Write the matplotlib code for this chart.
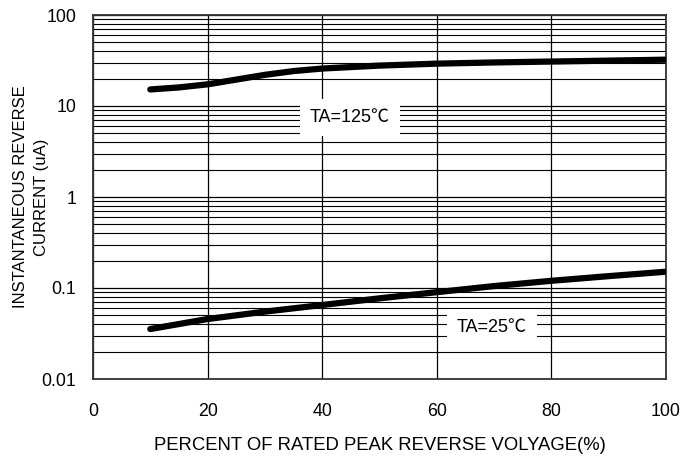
import matplotlib
matplotlib.use("Agg")
import matplotlib.pyplot as plt
import numpy as np

plt.rcParams['font.family'] = ['Liberation Sans', 'Noto Sans CJK SC', 'DejaVu Sans']

# Data (percent of rated peak reverse voltage, current in uA)
x_125 = [10, 15, 20, 25, 30, 35, 40, 50, 60, 70, 80, 90, 100]
y_125 = [15.2, 16.0, 17.3, 19.5, 22.0, 24.2, 25.8, 27.8, 29.2, 30.1, 30.8, 31.5, 32.3]
x_25 = [10, 20, 30, 40, 50, 60, 70, 80, 90, 100]
y_25 = [0.0354, 0.0456, 0.055, 0.065, 0.077, 0.090, 0.105, 0.120, 0.135, 0.151]

x_ticks = [0, 20, 40, 60, 80, 100]
y_ticks = [0.01, 0.1, 1, 10, 100]
y_ticklabels = ['0.01', '0.1', '1', '10', '100']

label_125 = 'TA=125\u2103'
label_25 = 'TA=25\u2103'
xlabel = 'PERCENT OF RATED PEAK REVERSE VOLYAGE(%)'
ylabel = 'INSTANTANEOUS REVERSE\nCURRENT (uA)'

fig = plt.figure(figsize=(6.99, 4.59), dpi=100)
ax = fig.add_axes([93/699, 80/459, 573/699, 364/459])
ax.set_yscale('log')
ax.set_xlim(0, 100)
ax.set_ylim(0.01, 100)

ax.set_xticks(x_ticks)
ax.set_xticklabels([str(v) for v in x_ticks])
ax.set_yticks(y_ticks)
ax.set_yticklabels(y_ticklabels)
ax.yaxis.set_minor_locator(matplotlib.ticker.LogLocator(base=10, subs=np.arange(2, 10)))
ax.yaxis.set_minor_formatter(matplotlib.ticker.NullFormatter())

ax.tick_params(axis='both', which='both', length=0, labelsize=12.8, colors='black')
ax.tick_params(axis='x', pad=17)
ax.tick_params(axis='y', pad=12)

ax.grid(True, which='major', axis='both', color='black', lw=0.9)
ax.grid(True, which='minor', axis='y', color='black', lw=0.8)
ax.set_axisbelow(True)

for s in ax.spines.values():
    s.set_color('#333333')
    s.set_linewidth(1.3)

ax.plot(x_125, y_125, color='black', lw=4.5, solid_capstyle='round', zorder=3)
ax.plot(x_25, y_25, color='black', lw=4.5, solid_capstyle='round', zorder=3)

bbox = dict(boxstyle='square,pad=0.55', fc='white', ec='none')
ax.text(44.8, 7.4, label_125, fontsize=13, ha='center', va='center', bbox=bbox, zorder=4)
ax.text(69.6, 0.0372, label_25, fontsize=13, ha='center', va='center', bbox=bbox, zorder=4)

fig.text((93 + 573/2)/699, 1 - 445/459, xlabel, fontsize=13.3, ha='center', va='center')
fig.text(31.5/699, 1 - 197/459, ylabel, rotation=90, fontsize=12, ha='center', va='center',
         multialignment='center', linespacing=1.5)

fig.savefig('out.png', dpi=100)
